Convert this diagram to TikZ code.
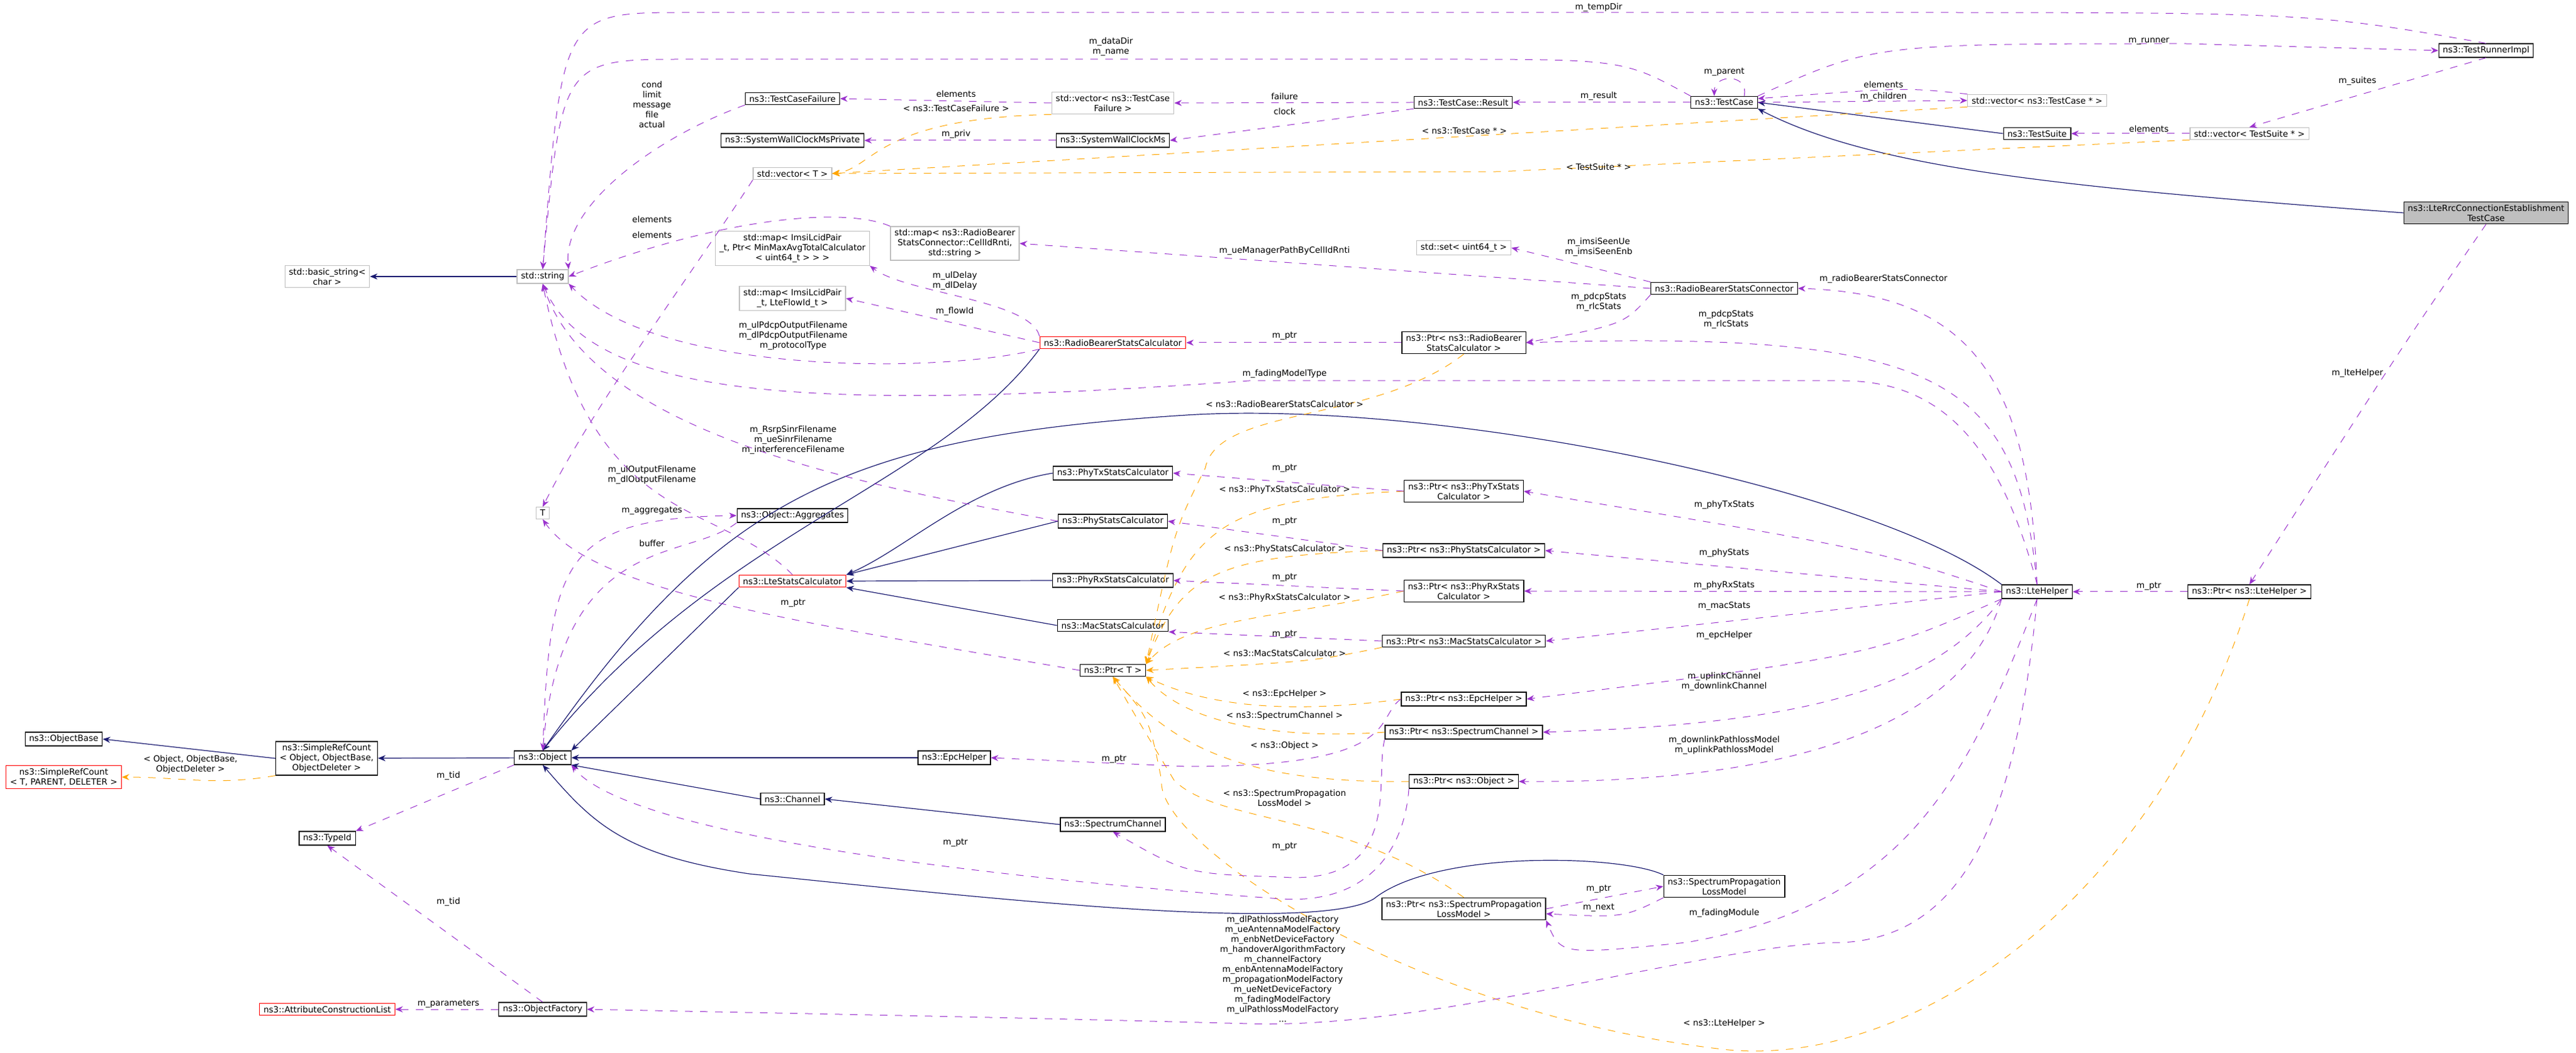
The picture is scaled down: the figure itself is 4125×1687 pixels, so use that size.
\documentclass[tikz,border=0pt]{standalone}
\usepackage{fontspec}
\setmainfont{DejaVu Sans}
\usetikzlibrary{arrows.meta}

\definecolor{usecol}{HTML}{9A32CD}
\definecolor{inhcol}{HTML}{191970}
\definecolor{tplcol}{HTML}{FFA500}

\tikzset{
  cls/.style={draw=black, line width=0.3pt, fill=white, inner xsep=1.6pt, inner ysep=1.1pt, align=center, font=\fontsize{3.4}{4.0}\selectfont},
  ext/.style={cls, draw=gray!50},
  undoc/.style={cls, draw=red},
  focus/.style={cls, fill=gray!50},
  lbl/.style={inner sep=0.5pt, align=center, font=\fontsize{3.4}{4.0}\selectfont},
  use/.style={draw=usecol, dashed, line width=0.25pt, -{Stealth[length=3pt,width=2.4pt]}},
  inh/.style={draw=inhcol, line width=0.3pt, -{Stealth[length=3pt,width=2.4pt]}},
  tpl/.style={draw=tplcol, dashed, line width=0.25pt, -{Stealth[length=3pt,width=2.4pt]}}
}

\begin{document}
\begin{tikzpicture}[x=0.25pt, y=-0.25pt]
  \useasboundingbox (0,0) rectangle (4125,1687);

  % test framework
  \node[cls]   (tRunner)  at (3981,81)   {ns3::TestRunnerImpl};
  \node[cls]   (tCase)    at (2761,164)  {ns3::TestCase};
  \node[cls]   (tSuite)   at (3262,214)  {ns3::TestSuite};
  \node[ext]   (vecCase)  at (3262,161)  {std::vector< ns3::TestCase * >};
  \node[ext]   (vecSuite) at (3602,214)  {std::vector< TestSuite * >};
  \node[focus] (lteRrc)   at (3981,341)  {ns3::LteRrcConnectionEstablishment\\TestCase};
  \node[cls]   (tResult)  at (2343,164)  {ns3::TestCase::Result};
  \node[ext]   (vecFail)  at (1782,165)  {std::vector< ns3::TestCase\\Failure >};
  \node[cls]   (tFail)    at (1269,158)  {ns3::TestCaseFailure};
  \node[cls]   (wallClk)  at (1782,225)  {ns3::SystemWallClockMs};
  \node[cls]   (wallPriv) at (1269,225)  {ns3::SystemWallClockMsPrivate};
  \node[ext]   (vecT)     at (1269,278)  {std::vector< T >};
  \node[ext]   (str)      at (869,443)   {std::string};
  \node[ext]   (bstr)     at (524,443)   {std::basic\_string<\\char >};

  % statistics
  \node[ext]   (mapRb)    at (1529,390)  {std::map< ns3::RadioBearer\\StatsConnector::CellIdRnti,\\std::string >};
  \node[ext]   (mapDelay) at (1269,398)  {std::map< ImsiLcidPair\\\_t, Ptr< MinMaxAvgTotalCalculator\\< uint64\_t > > >};
  \node[ext]   (mapFlow)  at (1269,478)  {std::map< ImsiLcidPair\\\_t, LteFlowId\_t >};
  \node[ext]   (setImsi)  at (2344,397)  {std::set< uint64\_t >};
  \node[cls]   (rbConn)   at (2761,462)  {ns3::RadioBearerStatsConnector};
  \node[undoc] (rbCalc)   at (1782,549)  {ns3::RadioBearerStatsCalculator};
  \node[cls]   (pRbCalc)  at (2344,549)  {ns3::Ptr< ns3::RadioBearer\\StatsCalculator >};
  \node[cls]   (phyTx)    at (1782,758)  {ns3::PhyTxStatsCalculator};
  \node[cls]   (pPhyTx)   at (2344,787)  {ns3::Ptr< ns3::PhyTxStats\\Calculator >};
  \node[cls]   (phy)      at (1782,835)  {ns3::PhyStatsCalculator};
  \node[cls]   (pPhy)     at (2344,882)  {ns3::Ptr< ns3::PhyStatsCalculator >};
  \node[cls]   (phyRx)    at (1782,930)  {ns3::PhyRxStatsCalculator};
  \node[cls]   (pPhyRx)   at (2344,947)  {ns3::Ptr< ns3::PhyRxStats\\Calculator >};
  \node[cls]   (mac)      at (1782,1002) {ns3::MacStatsCalculator};
  \node[cls]   (pMac)     at (2344,1027) {ns3::Ptr< ns3::MacStatsCalculator >};
  \node[cls]   (pT)       at (1782,1074) {ns3::Ptr< T >};
  \node[cls]   (pEpc)     at (2344,1120) {ns3::Ptr< ns3::EpcHelper >};
  \node[cls]   (pChan)    at (2344,1173) {ns3::Ptr< ns3::SpectrumChannel >};
  \node[cls]   (pObj)     at (2344,1252) {ns3::Ptr< ns3::Object >};
  \node[cls]   (specChan) at (1782,1321) {ns3::SpectrumChannel};
  \node[cls]   (splm)     at (2761,1420) {ns3::SpectrumPropagation\\LossModel};
  \node[cls]   (pSplm)    at (2344,1456) {ns3::Ptr< ns3::SpectrumPropagation\\LossModel >};
  \node[cls]   (lteHelper) at (3262,948) {ns3::LteHelper};
  \node[cls]   (pLte)     at (3602,948)  {ns3::Ptr< ns3::LteHelper >};

  % object model
  \node[ext]   (typeT)    at (869,822)   {T};
  \node[cls]   (aggr)     at (1269,826)  {ns3::Object::Aggregates};
  \node[undoc] (lteStats) at (1269,931)  {ns3::LteStatsCalculator};
  \node[cls]   (objBase)  at (102,1184)  {ns3::ObjectBase};
  \node[undoc] (srcT)     at (102,1245)  {ns3::SimpleRefCount\\< T, PARENT, DELETER >};
  \node[cls]   (srcObj)   at (523,1215)  {ns3::SimpleRefCount\\< Object, ObjectBase,\\ObjectDeleter >};
  \node[cls]   (obj)      at (869,1214)  {ns3::Object};
  \node[cls]   (typeId)   at (524,1343)  {ns3::TypeId};
  \node[undoc] (attrList) at (524,1617)  {ns3::AttributeConstructionList};
  \node[cls]   (objFact)  at (869,1617)  {ns3::ObjectFactory};
  \node[cls]   (epc)      at (1528,1214) {ns3::EpcHelper};
  \node[cls]   (chan)     at (1269,1280) {ns3::Channel};

  % inheritance
  \draw[inh] (str) -- (bstr);
  \draw[inh] (srcObj.west) -- (objBase.east);
  \draw[inh] (obj) -- (srcObj);
  \draw[inh] (lteStats.south west) -- (obj.north east);
  \draw[inh] (rbCalc.south west) .. controls (1500,780) and (1150,850) .. (obj.north);
  \draw[inh] (lteHelper.north west) .. controls (3000,780) and (2300,640) .. (1900,665) .. controls (1350,700) and (1150,800) .. (obj.north);
  \draw[inh] (epc) -- (obj);
  \draw[inh] (chan.west) -- (obj.south east);
  \draw[inh] (splm.north west) .. controls (2600,1370) and (2300,1360) .. (2200,1440) .. controls (2100,1500) and (1500,1430) .. (1200,1400) .. controls (1000,1370) and (950,1320) .. (obj.south);
  \draw[inh] (phyTx.west) .. controls (1550,780) and (1450,880) .. (lteStats.north east);
  \draw[inh] (phy.west) -- (lteStats.north east);
  \draw[inh] (phyRx.west) -- (lteStats.east);
  \draw[inh] (mac.west) -- (lteStats.south east);
  \draw[inh] (specChan.west) -- (chan.east);
  \draw[inh] (tSuite.west) -- (tCase.east);
  \draw[inh] (lteRrc.west) .. controls (3300,300) and (3000,270) .. (tCase.south east);

  % templates
  \draw[tpl] (srcObj.south west) to[out=190,in=0] (srcT.east);
  \draw[tpl] (vecFail.south west) .. controls (1400,190) and (1400,270) .. (vecT.east);
  \draw[tpl] (vecCase.south west) -- (vecT.east);
  \draw[tpl] (vecSuite.south west) -- (2400,275) -- (vecT.east);
  \draw[tpl] (pRbCalc.south) .. controls (2200,680) and (1950,650) .. (1930,750) .. controls (1880,850) .. (pT.north east);
  \draw[tpl] (pPhyTx.west) .. controls (1950,800) and (1900,850) .. (pT.north east);
  \draw[tpl] (pPhy.west) .. controls (1950,890) and (1890,920) .. (pT.north east);
  \draw[tpl] (pPhyRx.west) .. controls (2050,990) and (1900,990) .. (pT.north east);
  \draw[tpl] (pMac.south west) .. controls (2100,1060) .. (pT.east);
  \draw[tpl] (pEpc.west) .. controls (2100,1140) and (1950,1140) .. (pT.south east);
  \draw[tpl] (pChan.west) .. controls (2050,1185) and (1900,1160) .. (pT.south east);
  \draw[tpl] (pObj.west) .. controls (2000,1255) and (1880,1200) .. (pT.south);
  \draw[tpl] (pSplm.north) .. controls (2150,1300) and (1950,1320) .. (1880,1250) .. controls (1820,1150) .. (pT.south);
  \draw[tpl] (pLte.south) .. controls (3450,1450) and (3050,1720) .. (2750,1680) .. controls (2250,1620) and (1850,1350) .. (1860,1250) .. controls (1840,1150) .. (pT.south);

  % usage
  \draw[use] (tRunner.north) .. controls (3700,20) .. (3000,20) -- (1100,20) .. controls (900,20) .. (str.north);
  \draw[use] (tCase.north west) .. controls (2600,95) .. (2300,95) -- (1100,95) .. controls (900,95) .. (str.north);
  \draw[use] (tFail.south west) .. controls (1050,220) and (900,330) .. (str.north east);
  \draw[use] (vecFail.west) -- (tFail.east);
  \draw[use] (tResult.west) -- (vecFail.east);
  \draw[use] (tResult.south west) -- (wallClk.east);
  \draw[use] (wallClk.west) -- (wallPriv.east);
  \draw[use] (tCase.west) -- (tResult.east);
  \draw[use] ([xshift=8pt]tCase.north) .. controls ([xshift=10pt,yshift=9pt]tCase.north) and ([xshift=-4pt,yshift=9pt]tCase.north) .. ([xshift=-4pt]tCase.north);
  \draw[use] (tCase.north east) .. controls (3000,70) .. (3500,70) -- (tRunner.west);
  \draw[use] (vecCase.north west) .. controls (3050,140) .. ([yshift=1.5pt]tCase.east);
  \draw[use] (tCase.east) -- (vecCase.west);
  \draw[use] (tRunner.south) -- (vecSuite.north);
  \draw[use] (vecSuite.west) -- (tSuite.east);
  \draw[use] (lteRrc.south) .. controls (3850,550) .. (pLte.north);
  \draw[use] (pLte.west) -- (lteHelper.east);
  \draw[use] (vecT.south west) .. controls (1100,450) and (950,650) .. (typeT.north);
  \draw[use] (mapRb.north west) .. controls (1350,330) and (1150,350) .. (str.east);
  \draw[use] (rbConn.west) -- (mapRb.east);
  \draw[use] (rbConn.north west) -- (setImsi.east);
  \draw[use] (rbConn.south west) .. controls (2600,520) .. (pRbCalc.east);
  \draw[use] (lteHelper.north) .. controls (3230,600) and (3100,530) .. (pRbCalc.east);
  \draw[use] (lteHelper.north) .. controls (3250,600) and (3150,470) .. (rbConn.east);
  \draw[use] (rbCalc.north west) .. controls (1650,480) and (1450,470) .. (mapDelay.south east);
  \draw[use] (rbCalc.west) -- (mapFlow.east);
  \draw[use] (rbCalc.south west) .. controls (1500,600) and (1050,600) .. (str.south east);
  \draw[use] (pRbCalc.west) -- (rbCalc.east);
  \draw[use] (lteHelper.north) .. controls (3200,700) and (3100,610) .. (2950,610) -- (2000,610) .. controls (1300,660) and (950,640) .. (str.south);
  \draw[use] (phy.west) .. controls (1400,780) and (950,700) .. (str.south);
  \draw[use] (lteStats.north) .. controls (1150,800) and (950,850) .. (str.south);
  \draw[use] (obj.north) .. controls (880,900) and (900,830) .. (aggr.west);
  \draw[use] (aggr.south west) .. controls (1100,900) and (900,850) .. (obj.north);
  \draw[use] (pT.west) .. controls (1300,1000) and (950,950) .. (typeT.south);
  \draw[use] (pPhyTx.west) -- (phyTx.east);
  \draw[use] (pPhy.west) -- (phy.east);
  \draw[use] (pPhyRx.west) -- (phyRx.east);
  \draw[use] (pMac.west) -- (mac.south east);
  \draw[use] (lteHelper.west) .. controls (3000,880) .. (pPhyTx.east);
  \draw[use] (lteHelper.west) -- (pPhy.east);
  \draw[use] (lteHelper.west) -- (pPhyRx.east);
  \draw[use] (lteHelper.west) -- (pMac.east);
  \draw[use] (lteHelper.south west) .. controls (3000,1050) .. (pEpc.east);
  \draw[use] (lteHelper.south west) .. controls (3100,1100) and (2900,1160) .. (pChan.east);
  \draw[use] (lteHelper.south west) .. controls (3150,1150) and (2900,1255) .. (pObj.east);
  \draw[use] (lteHelper.south) .. controls (3150,1250) and (3050,1450) .. (2700,1510) .. controls (2500,1530) .. (pSplm.south east);
  \draw[use] (lteHelper.south) .. controls (3230,1300) and (3150,1500) .. (2950,1510) .. controls (2750,1510) and (2300,1650) .. (2000,1640) .. controls (1600,1630) .. (objFact.east);
  \draw[use] (pEpc.west) .. controls (2200,1150) and (2250,1228) .. (1900,1228) -- (epc.east);
  \draw[use] (pChan.south west) .. controls (2200,1250) and (2250,1420) .. (2050,1405) .. controls (1900,1400) .. (specChan.south);
  \draw[use] (pObj.south west) .. controls (2250,1350) and (2200,1450) .. (2050,1440) .. controls (1500,1400) and (1000,1330) .. (obj.south east);
  \draw[use] (pSplm.east) -- (splm.west);
  \draw[use] (splm.south west) .. controls (2600,1470) .. ([yshift=-2pt]pSplm.east);
  \draw[use] (obj.south west) -- (typeId.north east);
  \draw[use] (objFact.north) -- (typeId.south);
  \draw[use] (objFact.west) -- (attrList.east);

  % edge labels
  \node[lbl] (lTempDir)  at (2560,12)   {m\_tempDir};
  \node[lbl] (lDataDir)  at (1779,75)   {m\_dataDir\\m\_name};
  \node[lbl] (lFailMem)  at (1044,167)  {cond\\limit\\message\\file\\actual};
  \node[lbl] (lElFail)   at (1531,150)  {elements};
  \node[lbl] (lTplFail)  at (1531,173)  {< ns3::TestCaseFailure >};
  \node[lbl] (lPriv)     at (1531,215)  {m\_priv};
  \node[lbl] (lFailure)  at (2057,154)  {failure};
  \node[lbl] (lClock)    at (2057,178)  {clock};
  \node[lbl] (lResult)   at (2560,154)  {m\_result};
  \node[lbl] (lParent)   at (2761,115)  {m\_parent};
  \node[lbl] (lTplCase)  at (2345,210)  {< ns3::TestCase * >};
  \node[lbl] (lTplSuite) at (2560,267)  {< TestSuite * >};
  \node[lbl] (lRunner)   at (3441,66)   {m\_runner};
  \node[lbl] (lElCase)   at (3016,135)  {elements};
  \node[lbl] (lChildren) at (3016,155)  {m\_children};
  \node[lbl] (lSuites)   at (3775,130)  {m\_suites};
  \node[lbl] (lElSuite)  at (3441,206)  {elements};
  \node[lbl] (lLteHelp)  at (3775,598)  {m\_lteHelper};
  \node[lbl] (lPtrLte)   at (3441,939)  {m\_ptr};
  \node[lbl] (lElMap)    at (1044,351)  {elements};
  \node[lbl] (lElVec)    at (1044,376)  {elements};
  \node[lbl] (lUeMgr)    at (2057,402)  {m\_ueManagerPathByCellIdRnti};
  \node[lbl] (lImsi)     at (2560,396)  {m\_imsiSeenUe\\m\_imsiSeenEnb};
  \node[lbl] (lPdcpA)    at (2560,484)  {m\_pdcpStats\\m\_rlcStats};
  \node[lbl] (lPdcpB)    at (2764,512)  {m\_pdcpStats\\m\_rlcStats};
  \node[lbl] (lRbConn)   at (3016,447)  {m\_radioBearerStatsConnector};
  \node[lbl] (lDelay)    at (1529,450)  {m\_ulDelay\\m\_dlDelay};
  \node[lbl] (lFlow)     at (1529,499)  {m\_flowId};
  \node[lbl] (lPdcpFile) at (1270,538)  {m\_ulPdcpOutputFilename\\m\_dlPdcpOutputFilename\\m\_protocolType};
  \node[lbl] (lPtrRb)    at (2057,538)  {m\_ptr};
  \node[lbl] (lFading)   at (2057,599)  {m\_fadingModelType};
  \node[lbl] (lTplRb)    at (2057,647)  {< ns3::RadioBearerStatsCalculator >};
  \node[lbl] (lSinrFile) at (1270,705)  {m\_RsrpSinrFilename\\m\_ueSinrFilename\\m\_interferenceFilename};
  \node[lbl] (lOutFile)  at (1044,761)  {m\_ulOutputFilename\\m\_dlOutputFilename};
  \node[lbl] (lAggr)     at (1044,818)  {m\_aggregates};
  \node[lbl] (lBuffer)   at (1044,870)  {buffer};
  \node[lbl] (lPtrT)     at (1270,966)  {m\_ptr};
  \node[lbl] (lPtrTx)    at (2057,750)  {m\_ptr};
  \node[lbl] (lTplTx)    at (2057,785)  {< ns3::PhyTxStatsCalculator >};
  \node[lbl] (lPtrPhy)   at (2057,835)  {m\_ptr};
  \node[lbl] (lTplPhy)   at (2057,880)  {< ns3::PhyStatsCalculator >};
  \node[lbl] (lPtrRx)    at (2057,925)  {m\_ptr};
  \node[lbl] (lTplRx)    at (2057,958)  {< ns3::PhyRxStatsCalculator >};
  \node[lbl] (lPtrMac)   at (2057,1016) {m\_ptr};
  \node[lbl] (lTplMac)   at (2057,1046) {< ns3::MacStatsCalculator >};
  \node[lbl] (lTplEpc)   at (2057,1112) {< ns3::EpcHelper >};
  \node[lbl] (lTplChan)  at (2057,1147) {< ns3::SpectrumChannel >};
  \node[lbl] (lTplObj)   at (2057,1195) {< ns3::Object >};
  \node[lbl] (lTplSplm)  at (2057,1278) {< ns3::SpectrumPropagation\\LossModel >};
  \node[lbl] (lPtrChan)  at (2057,1356) {m\_ptr};
  \node[lbl] (lPtrEpc)   at (1784,1216) {m\_ptr};
  \node[lbl] (lPtrObj)   at (1530,1350) {m\_ptr};
  \node[lbl] (lPhyTx)    at (2761,809)  {m\_phyTxStats};
  \node[lbl] (lPhy)      at (2761,886)  {m\_phyStats};
  \node[lbl] (lPhyRx)    at (2761,938)  {m\_phyRxStats};
  \node[lbl] (lMac)      at (2761,971)  {m\_macStats};
  \node[lbl] (lEpc)      at (2761,1018) {m\_epcHelper};
  \node[lbl] (lChan)     at (2761,1092) {m\_uplinkChannel\\m\_downlinkChannel};
  \node[lbl] (lPath)     at (2761,1194) {m\_downlinkPathlossModel\\m\_uplinkPathlossModel};
  \node[lbl] (lPtrSplm)  at (2560,1424) {m\_ptr};
  \node[lbl] (lNext)     at (2560,1454) {m\_next};
  \node[lbl] (lFadMod)   at (2761,1463) {m\_fadingModule};
  \node[lbl] (lFactory)  at (2054,1552) {m\_dlPathlossModelFactory\\m\_ueAntennaModelFactory\\m\_enbNetDeviceFactory\\m\_handoverAlgorithmFactory\\m\_channelFactory\\m\_enbAntennaModelFactory\\m\_propagationModelFactory\\m\_ueNetDeviceFactory\\m\_fadingModelFactory\\m\_ulPathlossModelFactory\\...};
  \node[lbl] (lTplLte)   at (2761,1640) {< ns3::LteHelper >};
  \node[lbl] (lTplSrc)   at (305,1225)  {< Object, ObjectBase,\\ObjectDeleter >};
  \node[lbl] (lTidA)     at (718,1243)  {m\_tid};
  \node[lbl] (lTidB)     at (718,1445)  {m\_tid};
  \node[lbl] (lParams)   at (718,1608)  {m\_parameters};
\end{tikzpicture}
\end{document}
